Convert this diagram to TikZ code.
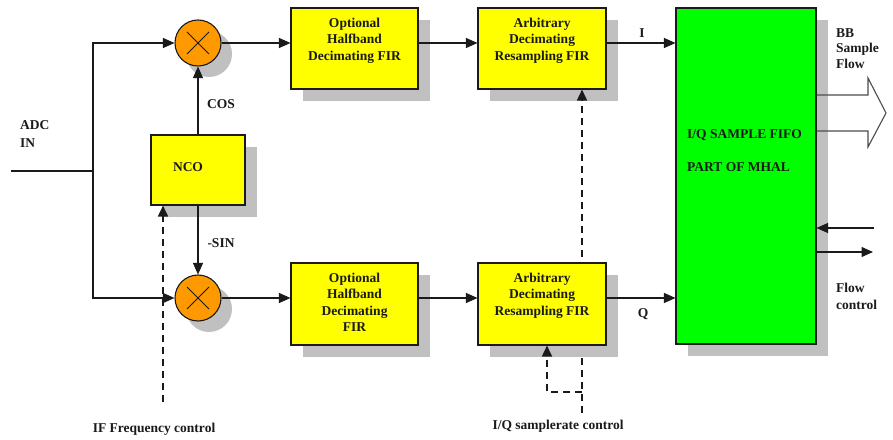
\documentclass[tikz,border=0pt]{standalone}
\usepackage{fontspec}
\setmainfont{Liberation Serif}
\usetikzlibrary{arrows.meta,shadows}
\definecolor{shadowgray}{HTML}{C0C0C0}
\definecolor{boxyellow}{HTML}{FFFF00}
\definecolor{mixorange}{HTML}{FF9900}
\definecolor{fifogreen}{HTML}{00FF00}
\definecolor{inkc}{HTML}{1A1A1A}
\begin{document}
\begin{tikzpicture}[x=1pt,y=1pt,
  font=\fontsize{13.5}{16.5}\selectfont\bfseries,
  wire/.style={line width=1.1pt, draw=inkc},
  arr/.style={wire,-{Triangle[length=11.5pt,width=10pt]}},
  dsh/.style={line width=1.7pt, dash pattern=on 7pt off 5pt, draw=inkc},
  dsharr/.style={dsh,-{Triangle[length=11pt,width=10pt]}},
  blk/.style={general shadow={fill=shadowgray,shadow xshift=12pt,shadow yshift=-12pt},
    draw=inkc, line width=1.1pt, fill=boxyellow, rectangle, inner sep=0pt},
  mixer/.style={circle, draw=inkc, line width=1.1pt, fill=mixorange,
    minimum size=46pt, inner sep=0pt,
    general shadow={fill=shadowgray,shadow xshift=11pt,shadow yshift=-11pt},
    path picture={\draw[line width=0.8pt,draw=inkc]
      ([shift={(-11pt,-11pt)}]path picture bounding box.center) --
      ([shift={(11pt,11pt)}]path picture bounding box.center)
      ([shift={(-11pt,11pt)}]path picture bounding box.center) --
      ([shift={(11pt,-11pt)}]path picture bounding box.center);}},
  lbl/.style={inner sep=0pt, align=center, text=inkc},
  lbll/.style={inner sep=0pt, align=left, text=inkc},
]
\path[use as bounding box, fill=white] (0,0) rectangle (893,439);

% input and splitting
\coordinate (adc) at (11,268);
\coordinate (j) at (93,268);
\node[mixer] (m1) at (198,396) {};
\node[mixer] (m2) at (198,141) {};
\draw[wire] (adc) -- (j);
\draw[arr] (j) |- (m1.west);
\draw[arr] (j) |- (m2.west);

% NCO
\node[blk, minimum width=94pt, minimum height=70pt] (nco) at (198,269) {};
\node[lbl, anchor=base] (ncot) at (188,267.5) {NCO};
\draw[arr] (nco.north) -- (m1.south);
\draw[arr] (nco.south) -- (m2.north);
\node[lbl, anchor=base] (cos) at (221,330.5) {COS};
\node[lbl, anchor=base] (sin) at (221,191.5) {-SIN};

% IF frequency control
\coordinate (ifc) at (163,37);
\draw[dsharr] (ifc) -- (ifc |- nco.south);
\node[lbl, anchor=base] (ifct) at (154,6.5) {IF Frequency control};

% top branch
\node[blk, minimum width=127pt, minimum height=81pt] (ta1) at (354.5,390.5) {};
\node[lbl, anchor=north] (ta1t) at ([yshift=-10pt]ta1.north) {Optional\\Halfband\\Decimating FIR};
\node[blk, minimum width=128pt, minimum height=81pt] (ta2) at (542,390.5) {};
\node[lbl, anchor=north] (ta2t) at ([yshift=-10pt]ta2.north) {Arbitrary\\Decimating\\Resampling FIR};
\draw[arr] (m1.east) -- (m1.east -| ta1.west);
\draw[arr] (ta1.east |- m1) -- (ta2.west |- m1);

% I/Q samplerate control (main line)
\coordinate (sr) at (582,26);
\draw[dsharr] (sr) -- (sr |- ta2.south);

% bottom branch
\node[blk, minimum width=127pt, minimum height=82pt] (ba1) at (354.5,135) {};
\node[lbl, anchor=north] (ba1t) at ([yshift=-10pt]ba1.north) {Optional\\Halfband\\Decimating\\FIR};
\node[blk, minimum width=128pt, minimum height=82pt] (ba2) at (542,135) {};
\node[lbl, anchor=north] (ba2t) at ([yshift=-10pt]ba2.north) {Arbitrary\\Decimating\\Resampling FIR};
\draw[arr] (m2.east) -- (m2.east -| ba1.west);
\draw[arr] (ba1.east |- m2) -- (ba2.west |- m2);

\coordinate (srb) at (582,47);
\coordinate (srin) at (547,47);
\draw[dsharr] (srb) -- (srin) -- (srin |- ba2.south);
\node[lbl, anchor=base] (srt) at (558,9.5) {I/Q samplerate control};

% FIFO
\node[general shadow={fill=shadowgray,shadow xshift=12pt,shadow yshift=-12pt},
  draw=inkc, line width=1.1pt, fill=fifogreen, rectangle, inner sep=0pt,
  minimum width=140pt, minimum height=336pt] (g) at (746,263) {};
\node[lbll, anchor=base west] (g1) at (687,300.5) {I/Q SAMPLE FIFO};
\node[lbll, anchor=base west] (g2) at (687,267.5) {PART OF MHAL};
\draw[arr] (ta2.east |- m1) -- (g.west |- m1);
\draw[arr] (ba2.east |- m2) -- (g.west |- m2);
\node[lbl, anchor=base] (il) at (642,401.5) {I};
\node[lbl, anchor=base] (ql) at (643,121.5) {Q};

% BB sample flow big arrow
\draw[line width=1.1pt, draw=black!70, line join=miter]
  ([yshift=81pt]g.east) -- (868,344) -- (868,361) -- (886,326) -- (868,292)
  -- (868,308) -- ([yshift=45pt]g.east);
\node[lbll, anchor=north west, font=\fontsize{13.5}{15.5}\selectfont\bfseries] (bb) at (836,411) {BB\\Sample\\Flow};

% flow control
\coordinate (fcin) at (874,211);
\coordinate (fcout) at (873,187);
\draw[arr] (fcin) -- (fcin -| g.east);
\draw[arr] (fcout -| g.east) -- (fcout);
\node[lbll, anchor=north west] (fc) at (836,156) {Flow\\control};

% ADC IN
\node[lbll, anchor=north west, font=\fontsize{13.5}{18}\selectfont\bfseries] (adct) at (20,319) {ADC\\IN};
\end{tikzpicture}
\end{document}
